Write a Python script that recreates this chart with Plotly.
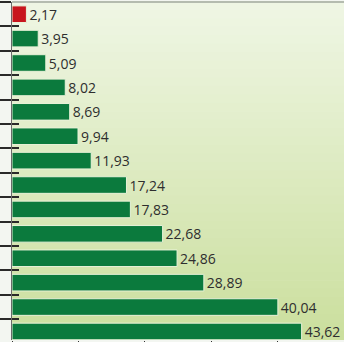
import plotly.graph_objects as go

values = [2.17, 3.95, 5.09, 8.02, 8.69, 9.94, 11.93, 17.24, 17.83, 22.68, 24.86, 28.89, 40.04, 43.62]
labels = ["2,17", "3,95", "5,09", "8,02", "8,69", "9,94", "11,93", "17,24", "17,83",
          "22,68", "24,86", "28,89", "40,04", "43,62"]
positions = list(range(len(values)))
colors = ["#c8161e"] + ["#0b7a3d"] * (len(values) - 1)

fig = go.Figure()
fig.add_trace(go.Bar(
    x=values, y=positions, orientation="h",
    marker=dict(color=colors, line=dict(color="#e8f2d8", width=1)),
    width=0.68,
    text=labels, textposition="outside", constraintext="none",
    textfont=dict(family="Open Sans", size=14, color="#2e2e2e"),
    cliponaxis=False, hoverinfo="skip",
))
# dummy trace for inside ticks on an overlaying axis
fig.add_trace(go.Scatter(x=[None], y=[None], yaxis="y2", showlegend=False))

# vertical gradient background
n = 40
top = (239, 246, 228)
bot = (203, 223, 158)
for i in range(n):
    t = i / (n - 1)
    c = tuple(round(top[k] + (bot[k] - top[k]) * t) for k in range(3))
    fig.add_shape(type="rect", xref="paper", yref="paper",
                  x0=0, x1=1, y0=1 - (i + 1) / n, y1=1 - i / n + 0.002,
                  fillcolor="rgb(%d,%d,%d)" % c, line_width=0, layer="below")
fig.add_shape(type="line", xref="paper", yref="paper", x0=0, x1=1, y0=1, y1=1,
              line=dict(color="#b5bcb0", width=2), layer="above")

yr = [13.35, -0.5]
fig.update_layout(
    width=344, height=342,
    margin=dict(l=12, r=0, t=2, b=2, autoexpand=False),
    paper_bgcolor="#f3f6f1", plot_bgcolor="rgba(0,0,0,0)",
    showlegend=False,
    xaxis=dict(range=[0, 50], showgrid=False, zeroline=False, tickmode="linear",
               tick0=0, dtick=10, ticks="outside", ticklen=4, tickcolor="#333",
               showticklabels=False, showline=False, automargin=False),
    yaxis=dict(range=yr, showgrid=False, zeroline=False, tickmode="linear",
               tick0=0.5, dtick=1, ticks="outside", ticklen=11, tickwidth=2,
               tickcolor="#2a2a2a", showticklabels=False, showline=True,
               linecolor="#6a6a6a", linewidth=1, automargin=False),
    yaxis2=dict(range=yr, overlaying="y", side="left", showgrid=False, zeroline=False,
                tickmode="linear", tick0=0.5, dtick=1, ticks="inside", ticklen=7,
                tickwidth=2, tickcolor="#2a2a2a", showticklabels=False, showline=False,
                automargin=False),
    bargap=0.3,
)
fig.write_html("out.html", config={"displayModeBar": False},
               post_script="document.body.style.margin='0';document.body.style.overflow='hidden';")
